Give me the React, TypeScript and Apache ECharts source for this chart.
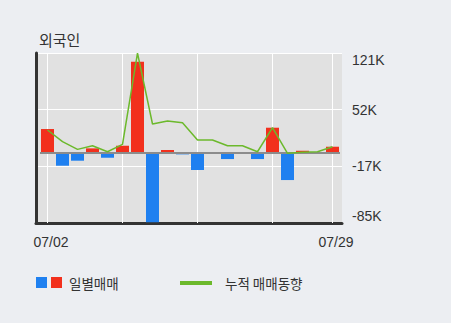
import React, { useEffect, useRef } from "react";
import * as echarts from "echarts";

const dates = ["07/02","07/03","07/04","07/05","07/08","07/09","07/10","07/11","07/12","07/15","07/16","07/17","07/18","07/19","07/22","07/23","07/24","07/25","07/26","07/29"];
// daily net buying by foreigners (thousand shares)
const dailyNet = [28.8,-15.8,-9.7,5.3,-6.1,8.5,110.6,-84.5,3.3,-2,-21,0,-7.7,0,-7.7,30.4,-33.2,2.4,0.4,7.3];
// cumulative trend (thousand shares)
const cumulative = [27.6,13.4,4.1,8.5,1.2,10.2,121,34.9,38.5,36.5,15.4,15.4,8.5,8.5,1.2,30.4,-0.7,0.5,1.2,7.3];
const gridLineDates = ["07/02","07/09","07/16","07/23","07/29"];
const labelDates = ["07/02","07/29"];
const yMin = -85.4;
const yMax = 121.2;
const title = "외국인";
const legendBar = "일별매매";
const legendLine = "누적 매매동향";

const RED = "#f2301d";
const BLUE = "#1f80f0";
const GREEN = "#6cb92c";
const PAGE_BG = "#eceef2";
const PLOT_BG = "#e1e1e1";
const NUM_FONT = "'Liberation Sans', Arial, sans-serif";
const KR_FONT = "'Noto Sans CJK KR', sans-serif";

export default function App() {
  const ref = useRef<HTMLDivElement>(null);
  useEffect(() => {
    document.body.style.margin = "0";
    document.body.style.background = PAGE_BG;
    const chart = echarts.init(ref.current!, null, { renderer: "svg" });
    const interval = (yMax - yMin) / 3;
    chart.setOption({
      animation: false,
      backgroundColor: PAGE_BG,
      title: {
        text: title,
        left: 34,
        top: 27,
        textStyle: { fontSize: 15, fontWeight: "normal", color: "#333", fontFamily: KR_FONT },
      },
      grid: [
        { left: 36, top: 53, width: 306, height: 170, show: true, backgroundColor: PLOT_BG, borderWidth: 0 },
        { left: 40, top: 53, width: 300, height: 170 },
      ],
      xAxis: [
        {
          gridIndex: 0, type: "value", min: 0, max: 1,
          axisLine: { show: true, onZero: false, lineStyle: { color: "#333", width: 3 } },
          axisTick: { show: false }, axisLabel: { show: false }, splitLine: { show: false },
        },
        {
          gridIndex: 1, type: "category", data: dates,
          axisLine: { show: false }, axisTick: { show: false }, splitLine: { show: false },
          axisLabel: {
            interval: (i: number, v: string) => labelDates.includes(v),
            margin: 12, padding: [0, 0, 0, 7],
            fontSize: 14, color: "#333", fontFamily: NUM_FONT,
          },
        },
      ],
      yAxis: [
        {
          gridIndex: 0, type: "value", position: "right", min: yMin, max: yMax, interval,
          axisLine: { show: false }, axisTick: { show: false },
          axisLabel: {
            margin: 10, fontSize: 14, color: "#333", fontFamily: NUM_FONT,
            formatter: (v: number) => Math.round(v) + "K",
            verticalAlignMaxLabel: "top", verticalAlignMinLabel: "bottom",
          },
          splitLine: { show: true, lineStyle: { color: "#ffffff", width: 1 } },
        },
        {
          gridIndex: 0, type: "value", position: "left", min: 0, max: 1,
          axisLine: { show: true, onZero: false, lineStyle: { color: "#333", width: 3 } },
          axisTick: { show: false }, axisLabel: { show: false }, splitLine: { show: false },
        },
        { gridIndex: 1, type: "value", min: yMin, max: yMax, show: false, splitLine: { show: false } },
      ],
      series: [
        {
          type: "bar", xAxisIndex: 1, yAxisIndex: 2, z: 2, barWidth: 13,
          data: dailyNet.map((v) => ({ value: v, itemStyle: { color: v >= 0 ? RED : BLUE } })),
          markLine: {
            z: 1, silent: true, symbol: ["none", "none"], label: { show: false },
            lineStyle: { color: "#ffffff", width: 1, type: "solid" },
            emphasis: { disabled: true },
            data: gridLineDates.map((d) => ({ xAxis: d })),
          },
        },
        {
          type: "line", xAxisIndex: 1, yAxisIndex: 2, z: 4, data: cumulative,
          symbol: "none", lineStyle: { color: GREEN, width: 1.5 }, itemStyle: { color: GREEN },
          markLine: {
            z: 3, silent: true, symbol: ["none", "none"], label: { show: false },
            lineStyle: { color: "#8c8c8c", width: 2, type: "solid" },
            emphasis: { disabled: true },
            data: [{ yAxis: 0 }],
          },
        },
      ],
      graphic: [
        { type: "rect", shape: { x: 36, y: 277, width: 11, height: 11 }, style: { fill: BLUE } },
        { type: "rect", shape: { x: 51, y: 277, width: 11, height: 11 }, style: { fill: RED } },
        { type: "text", x: 69, y: 283, style: { text: legendBar, fill: "#333", font: `13.5px ${KR_FONT}`, verticalAlign: "middle" } },
        { type: "rect", shape: { x: 180, y: 281, width: 32, height: 4 }, style: { fill: GREEN } },
        { type: "text", x: 225, y: 283, style: { text: legendLine, fill: "#333", font: `13.5px ${KR_FONT}`, verticalAlign: "middle" } },
      ],
    });
    return () => chart.dispose();
  }, []);
  return <div ref={ref} style={{ width: 451, height: 323 }} />;
}
